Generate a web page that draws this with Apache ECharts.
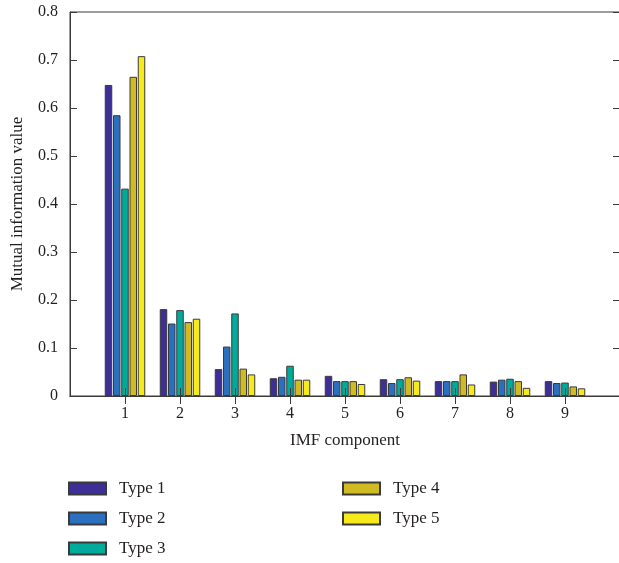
<!DOCTYPE html>
<html>
<head>
<meta charset="UTF-8">
<title>Mutual information</title>
<script src="https://cdn.jsdelivr.net/npm/echarts@6/dist/echarts.min.js"></script>
<style>body{margin:0;background:#fff}</style>
</head>
<body>
<div id="main" style="width:619px;height:563px;"></div>
<script type="text/javascript">
// IMF components (empty slots pad the axis out to 0 and 10)
var categories = ['', '1', '2', '3', '4', '5', '6', '7', '8', '9', ''];
var type1 = [null, 0.648, 0.181, 0.056, 0.037, 0.042, 0.035, 0.031, 0.030, 0.031, null];
var type2 = [null, 0.585, 0.151, 0.103, 0.040, 0.031, 0.027, 0.031, 0.034, 0.027, null];
var type3 = [null, 0.432, 0.179, 0.172, 0.063, 0.031, 0.035, 0.031, 0.036, 0.028, null];
var type4 = [null, 0.665, 0.154, 0.057, 0.034, 0.031, 0.039, 0.045, 0.031, 0.020, null];
var type5 = [null, 0.708, 0.161, 0.045, 0.034, 0.025, 0.032, 0.024, 0.017, 0.016, null];
var names = ['Type 1', 'Type 2', 'Type 3', 'Type 4', 'Type 5'];
var colors = ['#3d2f96', '#2b6fbf', '#00ab9c', '#d1bb22', '#f7ea1a'];

var font = 'Liberation Serif';
var ink = '#231f20';
var edge = '#3a3a3a';

function bar(i, data) {
    return {
        name: names[i],
        type: 'bar',
        data: data,
        barWidth: 7.5,
        barGap: '10%',
        itemStyle: { color: colors[i], borderColor: edge, borderWidth: 1 }
    };
}

function innerTick(i) { return i > 0 && i < categories.length - 1; }

var legendCommon = {
    orient: 'vertical',
    height: 100,
    icon: 'rect',
    itemWidth: 37,
    itemHeight: 12,
    itemGap: 13,
    textStyle: { fontFamily: font, fontSize: 17, color: ink, padding: [0, 0, 0, 8] }
};

var chart = echarts.init(document.getElementById('main'));
chart.setOption({
    animation: false,
    color: colors,
    grid: {
        left: 70, right: -1, top: 12, bottom: 167,
        outerBoundsMode: 'none', containLabel: false,
        show: true, borderColor: edge, borderWidth: 1
    },
    legend: [
        Object.assign({ left: 63, top: 475, data: names.slice(0, 3) }, legendCommon),
        Object.assign({ left: 337, top: 475, data: names.slice(3) }, legendCommon)
    ],
    xAxis: [{
        type: 'category',
        data: categories,
        boundaryGap: false,
        z: 5,
        name: 'IMF component',
        nameLocation: 'middle',
        nameGap: 36,
        nameTextStyle: { fontFamily: font, fontSize: 17, color: ink },
        axisLine: { lineStyle: { color: edge } },
        axisTick: { inside: true, length: 8, interval: innerTick, lineStyle: { color: edge } },
        axisLabel: { fontFamily: font, fontSize: 16, color: ink, margin: 10 },
        splitLine: { show: false }
    }, {
        type: 'category',
        position: 'top',
        data: categories,
        boundaryGap: false,
        axisLine: { lineStyle: { color: edge } },
        axisTick: { inside: true, length: 8, interval: innerTick, lineStyle: { color: edge } },
        axisLabel: { show: false },
        splitLine: { show: false }
    }],
    yAxis: [{
        type: 'value',
        min: 0,
        max: 0.8,
        interval: 0.1,
        name: 'Mutual information value',
        nameLocation: 'middle',
        nameGap: 44,
        nameTextStyle: { fontFamily: font, fontSize: 17, color: ink },
        axisLine: { show: true, lineStyle: { color: edge } },
        axisTick: { show: true, inside: true, length: 7, lineStyle: { color: edge } },
        axisLabel: { fontFamily: font, fontSize: 16, color: ink, margin: 12 },
        splitLine: { show: false }
    }, {
        type: 'value',
        position: 'right',
        min: 0,
        max: 0.8,
        interval: 0.1,
        axisLine: { show: true, lineStyle: { color: edge } },
        axisTick: { show: true, inside: true, length: 7, lineStyle: { color: edge } },
        axisLabel: { show: false },
        splitLine: { show: false }
    }],
    series: [bar(0, type1), bar(1, type2), bar(2, type3), bar(3, type4), bar(4, type5)]
});
</script>
</body>
</html>
